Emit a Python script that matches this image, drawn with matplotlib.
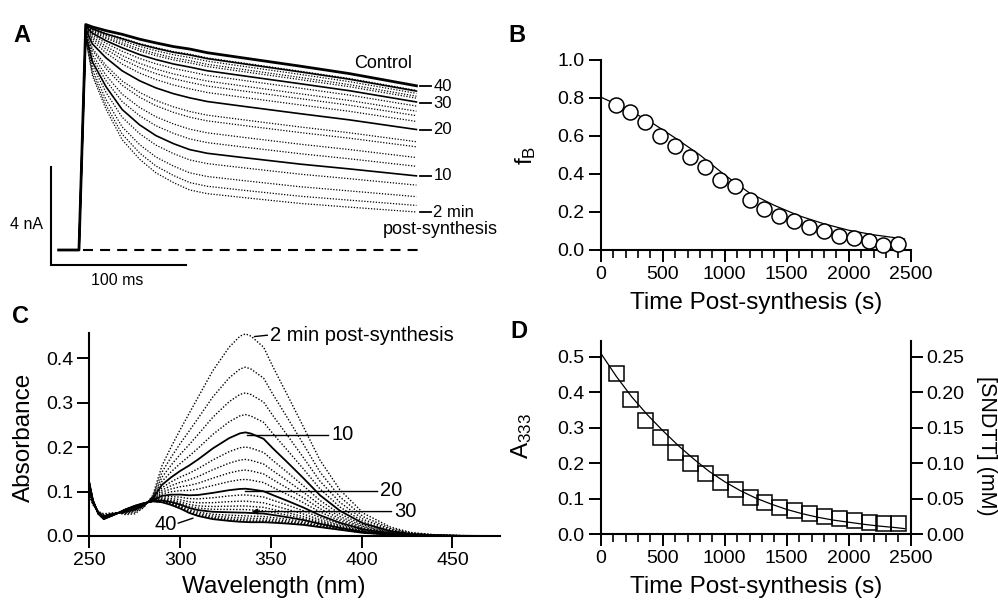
import matplotlib.pyplot as plt
import numpy as np

plt.rcParams['font.family'] = ['Liberation Sans', 'DejaVu Sans']
plt.rcParams['mathtext.default'] = 'regular'

# --- panel B / D: recordings every 2 min after synthesis ---
t_post = [120, 240, 360, 480, 600, 720, 840, 960, 1080, 1200,
          1320, 1440, 1560, 1680, 1800, 1920, 2040, 2160, 2280, 2400]
f_B = [0.765, 0.725, 0.672, 0.602, 0.546, 0.488, 0.435, 0.370, 0.339, 0.265,
       0.216, 0.181, 0.154, 0.123, 0.098, 0.075, 0.063, 0.046, 0.028, 0.032]
A333 = [0.455, 0.380, 0.322, 0.273, 0.233, 0.200, 0.172, 0.148, 0.127, 0.106,
        0.092, 0.078, 0.067, 0.059, 0.052, 0.045, 0.040, 0.036, 0.033, 0.031]

# fitted curves
fitB_t = [0, 200, 400, 600, 800, 1000, 1200, 1400, 1600, 1800, 2000, 2200, 2450]
fitB_y = [0.805, 0.745, 0.675, 0.59, 0.50, 0.395, 0.30, 0.235, 0.18, 0.138, 0.104, 0.08, 0.058]
fitD_t = [0, 125, 250, 375, 500, 625, 750, 875, 1000, 1125, 1250, 1375, 1500,
          1625, 1750, 1875, 2000, 2125, 2250, 2375, 2450]
fitD_y = [0.51, 0.445, 0.387, 0.337, 0.292, 0.25, 0.212, 0.177, 0.148, 0.123, 0.102,
          0.085, 0.07, 0.058, 0.048, 0.040, 0.034, 0.028, 0.023, 0.019, 0.016]

# --- panel A: current traces (ms, nA) ---
tA = [-15, 0, 5, 10, 20, 32, 45, 57, 70, 82, 95, 120, 164, 200, 250]
control = [0, 0, 9.2, 9.1, 8.95, 8.8, 8.6, 8.45, 8.3, 8.2, 8.05, 7.85, 7.5, 7.2, 6.7]
trace_2min = [0, 0, 8.6, 7.1, 5.75, 4.5, 3.7, 3.15, 2.75, 2.45, 2.3, 2.15, 1.9, 1.75, 1.55]

# --- panel C: spectra (nm, absorbance) at 2 min and 40 min ---
wl = [250, 252, 255, 258, 262, 266, 270, 275, 280, 285, 290, 295, 300, 305, 310,
      318, 327, 333, 336, 339, 346, 351, 359, 368, 377, 388, 401, 416, 427, 440, 455, 475]
spec_2min = [0.09, 0.07, 0.055, 0.05, 0.052, 0.052, 0.048, 0.05, 0.064, 0.092, 0.158,
             0.2, 0.239, 0.276, 0.313, 0.372, 0.425, 0.450, 0.455, 0.450, 0.425, 0.382,
             0.318, 0.245, 0.171, 0.104, 0.051, 0.02, 0.008, 0.003, 0.001, 0.0]
spec_40min = [0.12, 0.08, 0.05, 0.038, 0.045, 0.052, 0.06, 0.068, 0.074, 0.078, 0.076,
              0.07, 0.062, 0.052, 0.045, 0.038, 0.034, 0.032, 0.0315, 0.031, 0.031, 0.03,
              0.028, 0.025, 0.02, 0.014, 0.007, 0.003, 0.001, 0.0005, 0.0, 0.0]

solid_idx = [4, 9, 14, 19]   # 10, 20, 30, 40 min

W, H = 998, 602
fig = plt.figure(figsize=(W / 100, H / 100), dpi=100)


def box(l, t, r, b):
    return [l / W, 1 - b / H, (r - l) / W, (b - t) / H]


def style_axis(ax):
    for s in ['top', 'right']:
        ax.spines[s].set_visible(False)
    for s in ['left', 'bottom']:
        ax.spines[s].set_linewidth(1.5)
    ax.tick_params(which='major', direction='out', length=8.5, width=1.4,
                   labelsize=14, pad=3)
    ax.tick_params(which='minor', direction='out', length=5.5, width=1.2)


dots = (0, (1.0, 1.3))

# ---------------- A ----------------
axA = fig.add_axes(box(0, 0, 500, 300))
axA.set_xlim(-58.5, 311.9)
axA.set_ylim(-2.04, 10.2)
axA.axis('off')
tA_arr = np.array(tA)
ctrl = np.array(control)
tr2 = np.array(trace_2min)
blocked = ctrl - (ctrl - tr2) / f_B[0]
ends = []
for i, f in enumerate(f_B):
    y = ctrl - f * (ctrl - blocked)
    ends.append(y[-1])
    if i in solid_idx:
        axA.plot(tA_arr, y, color='black', lw=1.2, zorder=3)
    else:
        axA.plot(tA_arr, y, color='black', lw=0.9, linestyle=dots, zorder=2)
axA.plot(tA_arr, ctrl, color='black', lw=2.0, zorder=4)
axA.plot([3, 251], [0, 0], color='black', lw=1.5, linestyle=(0, (4.8, 3.4)))
# scale bar
axA.plot([-20.7, -20.7, 79.3], [3.39, -0.61, -0.61], color='black', lw=1.5,
         solid_joinstyle='miter')
axA.text(-38.5, 1.02, '4 nA', ha='center', va='center', fontsize=11.5)
axA.text(28, -1.25, '100 ms', ha='center', va='center', fontsize=11.5)
axA.text(225, 7.6, 'Control', ha='center', va='center', fontsize=13)
for i, lab, dy in zip([19, 14, 9, 4, 0], ['40', '30', '20', '10', '2 min'],
                      [0.2, -0.05, 0, 0, 0]):
    axA.plot([253, 261], [ends[i] + dy, ends[i] + dy], color='black', lw=1.3)
    axA.text(262.5, ends[i] + dy, lab, ha='left', va='center', fontsize=12)
axA.text(268, 0.82, 'post-synthesis', ha='center', va='center', fontsize=13)

# ---------------- B ----------------
axB = fig.add_axes(box(600.7, 60, 910.7, 250))
style_axis(axB)
axB.plot(fitB_t, fitB_y, color='black', lw=0.9, zorder=2)
axB.plot(t_post, f_B, linestyle='none', marker='o', markersize=10.8,
         markerfacecolor='white', markeredgecolor='black', markeredgewidth=1.1,
         clip_on=False, zorder=3)
axB.set_xlim(0, 2500)
axB.set_ylim(0, 1.0)
axB.set_xticks(np.arange(0, 2501, 500))
axB.set_xticks(np.arange(0, 2501, 100), minor=True)
axB.set_yticks(np.arange(0, 1.01, 0.2))
axB.set_yticklabels(['0.0', '0.2', '0.4', '0.6', '0.8', '1.0'])
axB.set_xlabel('Time Post-synthesis (s)', fontsize=17.5, va='center')
axB.xaxis.set_label_coords(0.5, -0.279)
axB.set_ylabel('f$_B$', fontsize=17.5, va='center', ha='center')
axB.yaxis.set_label_coords(-0.241, 0.5)

# ---------------- C ----------------
axC = fig.add_axes(box(89.3, 333, 499.7, 536))
style_axis(axC)
s2 = np.array(spec_2min)
s40 = np.array(spec_40min)
n = len(A333)
for i in range(n):
    w = (A333[i] - A333[-1]) / (A333[0] - A333[-1])
    y = s40 + w * (s2 - s40)
    if i in solid_idx:
        axC.plot(wl, y, color='black', lw=1.3, zorder=3)
    else:
        axC.plot(wl, y, color='black', lw=1.0, linestyle=dots, zorder=2)
axC.set_xlim(250, 476)
axC.set_ylim(0, 0.457)
axC.set_xticks([250, 300, 350, 400, 450])
axC.set_yticks([0.0, 0.1, 0.2, 0.3, 0.4])
axC.set_yticklabels(['0.0', '0.1', '0.2', '0.3', '0.4'])
axC.set_xlabel('Wavelength (nm)', fontsize=17.5, va='center')
axC.xaxis.set_label_coords(0.45, -0.251)
axC.set_ylabel('Absorbance', fontsize=17.5, va='center', ha='center')
axC.yaxis.set_label_coords(-0.159, 0.488)
axC.plot([341, 348], [0.449, 0.452], color='black', lw=1.0, clip_on=False)
axC.text(349.5, 0.452, '2 min post-synthesis', ha='left', va='center', fontsize=14.5,
         clip_on=False)
axC.plot([336.7, 381.6], [0.228, 0.228], color='black', lw=1.0)
axC.text(383.5, 0.228, '10', ha='left', va='center', fontsize=14.5)
axC.plot([335.7, 408.3], [0.102, 0.102], color='black', lw=1.0)
axC.text(410, 0.102, '20', ha='left', va='center', fontsize=14.5)
axC.annotate('', xy=(339.4, 0.055), xytext=(416.5, 0.055),
             arrowprops=dict(arrowstyle='-|>', color='black', lw=1.0,
                             mutation_scale=8, shrinkA=0, shrinkB=0))
axC.text(418, 0.055, '30', ha='left', va='center', fontsize=14.5)
axC.plot([299, 307], [0.029, 0.04], color='black', lw=1.0)
axC.text(298.5, 0.025, '40', ha='right', va='center', fontsize=14.5)

# ---------------- D ----------------
axD = fig.add_axes(box(600.7, 340.7, 910.7, 534.3))
style_axis(axD)
axD.plot(fitD_t, fitD_y, color='black', lw=0.9, zorder=2)
axD.plot(t_post, A333, linestyle='none', marker='s', markersize=10.8,
         markerfacecolor='none', markeredgecolor='black', markeredgewidth=1.1,
         clip_on=False, zorder=3)
axD.set_xlim(0, 2500)
axD.set_ylim(0, 0.545)
axD.set_xticks(np.arange(0, 2501, 500))
axD.set_xticks(np.arange(0, 2501, 100), minor=True)
axD.set_yticks(np.arange(0, 0.51, 0.1))
axD.set_yticklabels(['0.0', '0.1', '0.2', '0.3', '0.4', '0.5'])
axD.set_xlabel('Time Post-synthesis (s)', fontsize=17.5, va='center')
axD.xaxis.set_label_coords(0.5, -0.272)
axD.set_ylabel('A$_{333}$', fontsize=17.5, va='center', ha='center')
axD.yaxis.set_label_coords(-0.254, 0.508)

axD2 = axD.twinx()
axD2.set_ylim(0, 0.545 / 2)
for s in ['top', 'left', 'bottom']:
    axD2.spines[s].set_visible(False)
axD2.spines['right'].set_linewidth(1.5)
axD2.tick_params(direction='out', length=8.5, width=1.4, labelsize=14, pad=3)
axD2.set_yticks(np.arange(0, 0.251, 0.05))
axD2.set_yticklabels(['0.00', '0.05', '0.10', '0.15', '0.20', '0.25'])
axD2.set_ylabel('[SNDTT] (mM)', fontsize=15.5, rotation=-90, va='center', ha='center')
axD2.yaxis.set_label_coords(1.245, 0.456)

# panel letters
for lab, x, y in [('A', 13, 24), ('B', 508, 24), ('C', 12, 305), ('D', 510, 320)]:
    fig.text(x / W, 1 - y / H, lab, fontsize=17, fontweight='bold',
             ha='left', va='top')

fig.savefig('out.png', dpi=100)
